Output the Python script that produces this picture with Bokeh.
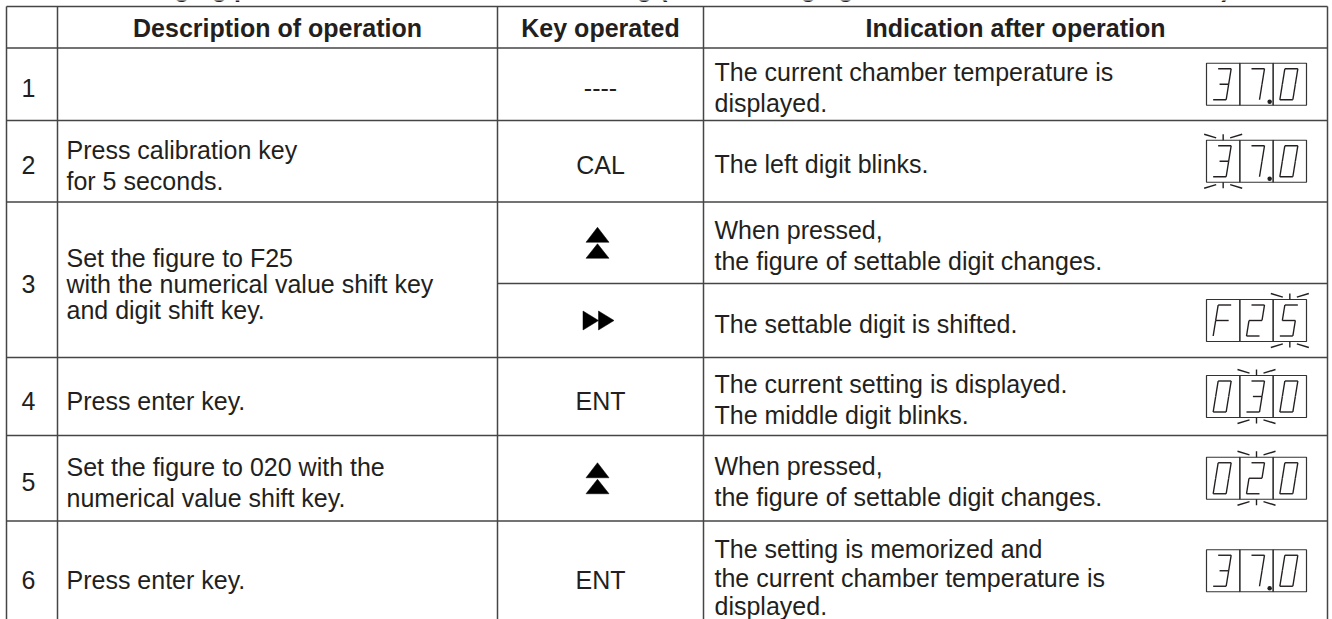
from bokeh.plotting import figure
from bokeh.models import Range1d
from bokeh.embed import file_html
from bokeh.resources import INLINE
from bokeh.core.properties import value

# ---------------- table content ----------------
title_text = "Table 5  Changing procedure of the alarm time setting (When changing from 30 minutes to 20 minutes)"
header_labels = ["Description of operation", "Key operated", "Indication after operation"]
step_numbers = ["1", "2", "3", "4", "5", "6"]
step_descriptions = [
    [],
    ["Press calibration key", "for 5 seconds."],
    ["Set the figure to F25", "with the numerical value shift key", "and digit shift key."],
    ["Press enter key."],
    ["Set the figure to 020 with the", "numerical value shift key."],
    ["Press enter key."],
]
# one entry per "key operated" cell (step 3 has two cells)
key_cell_step = [0, 1, 2, 2, 3, 4, 5]
keys_operated = ["----", "CAL", "UP", "SHIFT", "ENT", "UP", "ENT"]
indications = [
    ["The current chamber temperature is", "displayed."],
    ["The left digit blinks."],
    ["When pressed,", "the figure of settable digit changes."],
    ["The settable digit is shifted."],
    ["The current setting is displayed.", "The middle digit blinks."],
    ["When pressed,", "the figure of settable digit changes."],
    ["The setting is memorized and", "the current chamber temperature is", "displayed."],
]
display_readings = ["37.0", "37.0", "", "F25", "030", "020", "37.0"]
blinking_digit = [-1, 0, -1, 2, 1, 1, -1]

# ---------------- layout (page pixels) ----------------
W, H = 1332, 619
COL_X = [6, 57, 497, 703, 1327]
TABLE_TOP = 6
HEADER_BOTTOM = 47.5
KEY_EDGES = [47.5, 120, 201.5, 283, 357, 435, 520.5, 640]
TABLE_BOTTOM = 640
LAST_ROW_TEXT_BOTTOM = 630
FONT = "Liberation Sans"
FS = "25px"
TXT = "#231f20"
LINE = "#454545"
TEXT_DY = 4

p = figure(width=W, height=H, output_backend="svg", toolbar_location=None,
           x_range=Range1d(0, W), y_range=Range1d(H, 0),
           min_border=0, outline_line_color=None)
p.axis.visible = False
p.grid.visible = False
p.background_fill_color = "white"

# ---------- title (cut by the top edge, as in the source) ----------
p.text(x=[20], y=[-12.5], text=[title_text], text_font=value(FONT), text_font_size=FS,
       text_font_style="bold", text_align="left", text_baseline="alphabetic", text_color=TXT)

# ---------- grid lines ----------
x0s, y0s, x1s, y1s = [], [], [], []
for y in [TABLE_TOP, HEADER_BOTTOM]:
    x0s.append(COL_X[0]); x1s.append(COL_X[-1]); y0s.append(y); y1s.append(y)
for i in range(1, len(KEY_EDGES) - 1):
    y = KEY_EDGES[i]
    same_step = key_cell_step[i] == key_cell_step[i - 1]
    x0s.append(COL_X[2] if same_step else COL_X[0]); x1s.append(COL_X[-1])
    y0s.append(y); y1s.append(y)
for x in COL_X:
    x0s.append(x); x1s.append(x); y0s.append(TABLE_TOP); y1s.append(TABLE_BOTTOM)
p.segment(x0=x0s, y0=y0s, x1=x1s, y1=y1s, line_color=LINE, line_width=1.5)

# ---------- header ----------
hx = [(COL_X[1] + COL_X[2]) / 2, (COL_X[2] + COL_X[3]) / 2, (COL_X[3] + COL_X[4]) / 2]
hy = [(TABLE_TOP + HEADER_BOTTOM) / 2 + 1] * 3
p.text(x=hx, y=hy, text=header_labels, text_font=value(FONT), text_font_size=FS,
       text_font_style="bold", text_align="center", text_baseline="middle", text_color=TXT)

def block_y(center, n, sp):
    return [center + (k - (n - 1) / 2) * sp for k in range(n)]

# ---------- step numbers & descriptions ----------
nx, ny, dx, dy, dt = [], [], [], [], []
for s, num in enumerate(step_numbers):
    idx = [i for i, st in enumerate(key_cell_step) if st == s]
    top = KEY_EDGES[idx[0]]
    bot = min(KEY_EDGES[idx[-1] + 1], LAST_ROW_TEXT_BOTTOM)
    c = (top + bot) / 2 + TEXT_DY
    nx.append(COL_X[0] + 22); ny.append(c)
    lines = step_descriptions[s]
    sp = 26 if len(lines) >= 3 else 31
    for ln, yy in zip(lines, block_y(c, len(lines), sp)):
        dx.append(COL_X[1] + 9); dy.append(yy); dt.append(ln)
p.text(x=nx, y=ny, text=step_numbers, text_font=value(FONT), text_font_size=FS,
       text_align="center", text_baseline="middle", text_color=TXT)
p.text(x=dx, y=dy, text=dt, text_font=value(FONT), text_font_size=FS,
       text_align="left", text_baseline="middle", text_color=TXT)

# ---------- key cells & indications ----------
kx, ky, kt = [], [], []
tri_xs, tri_ys = [], []
ix, iy, it = [], [], []
kc_x = (COL_X[2] + COL_X[3]) / 2
for i, key in enumerate(keys_operated):
    top = KEY_EDGES[i]
    bot = min(KEY_EDGES[i + 1], LAST_ROW_TEXT_BOTTOM)
    c = (top + bot) / 2
    if key == "UP":
        cx = kc_x - 3
        for (ya, yb) in [(c - 15.5, c - 0.5), (c + 1, c + 15.5)]:
            tri_xs.append([cx - 11.5, cx + 11.5, cx]); tri_ys.append([yb, yb, ya])
    elif key == "SHIFT":
        cx = kc_x - 2
        for (xa, xb) in [(cx - 15.5, cx), (cx, cx + 15.5)]:
            tri_xs.append([xa, xa, xb]); tri_ys.append([c - 9.5, c + 9.5, c])
    else:
        kx.append(kc_x); ky.append(c + TEXT_DY); kt.append(key)
    lines = indications[i]
    if len(lines) >= 3:
        ys = block_y(c + 1.75, len(lines), 28.5)
    else:
        ys = block_y(c + 3, len(lines), 31)
    for ln, yy in zip(lines, ys):
        ix.append(COL_X[3] + 11); iy.append(yy); it.append(ln)
p.text(x=kx, y=ky, text=kt, text_font=value(FONT), text_font_size=FS,
       text_align="center", text_baseline="middle", text_color=TXT)
p.patches(xs=tri_xs, ys=tri_ys, fill_color="black", line_color="black", line_width=0.5)
p.text(x=ix, y=iy, text=it, text_font=value(FONT), text_font_size=FS,
       text_align="left", text_baseline="middle", text_color=TXT)

# ---------- seven segment displays ----------
SEGMENTS = {"0": "abcdef", "2": "abged", "3": "abgcd", "5": "afgcd", "7": "abc", "F": "aefg"}
SEG_PTS = {"a": ((0, 1), (1, 1)), "b": ((1, 1), (1, .5)), "c": ((1, .5), (1, 0)),
           "d": ((0, 0), (1, 0)), "e": ((0, 0), (0, .5)), "f": ((0, .5), (0, 1)),
           "g": ((0, .5), (1, .5))}
BOX_L, BOX_W, BOX_H = 1206, 100, 42
CELL_W = BOX_W / 3
GW, GH, SL = 13, 31, 5

box_l, box_r, box_t, box_b = [], [], [], []
seg_xs, seg_ys = [], []
dot_x, dot_y = [], []
for i, reading in enumerate(display_readings):
    if not reading:
        continue
    top = KEY_EDGES[i]
    bot = min(KEY_EDGES[i + 1], 620)
    cy = (top + bot) / 2
    bt, bb = cy - BOX_H / 2, cy + BOX_H / 2
    for k in range(3):
        box_l.append(BOX_L + k * CELL_W); box_r.append(BOX_L + (k + 1) * CELL_W)
        box_t.append(bt); box_b.append(bb)
    chars = []
    for ch in reading:
        if ch == ".":
            dot_x.append(BOX_L + len(chars) * CELL_W - 3.5); dot_y.append(bb - 3.5)
        else:
            chars.append(ch)
    for k, ch in enumerate(chars):
        ccx = BOX_L + (k + 0.5) * CELL_W - 1
        gx0 = ccx - (GW + SL) / 2
        gyb = cy + GH / 2
        for sg in SEGMENTS[ch]:
            (u0, v0), (u1, v1) = SEG_PTS[sg]
            if sg == "g" and ch == "3":
                u0 = 0.3
            seg_xs.append([gx0 + u0 * GW + v0 * SL, gx0 + u1 * GW + v1 * SL])
            seg_ys.append([gyb - v0 * GH, gyb - v1 * GH])
    b = blinking_digit[i]
    if b >= 0:
        bcx = BOX_L + (b + 0.5) * CELL_W
        for edge, d in [(bt, -1), (bb, 1)]:
            seg_xs.append([bcx, bcx]); seg_ys.append([edge, edge + d * 6])
            seg_xs.append([bcx - 19, bcx - 7]); seg_ys.append([edge + d * 6, edge + d * 2.3])
            seg_xs.append([bcx + 7, bcx + 19]); seg_ys.append([edge + d * 2.3, edge + d * 6])

p.quad(left=box_l, right=box_r, top=box_t, bottom=box_b, fill_color=None,
       line_color="#333333", line_width=1.2)
p.multi_line(xs=seg_xs, ys=seg_ys, line_color="#231f20", line_width=1.4)
p.scatter(x=dot_x, y=dot_y, size=4.5, marker="circle", fill_color="#231f20", line_color=None)

open("out.html", "w").write(file_html(p, INLINE))
